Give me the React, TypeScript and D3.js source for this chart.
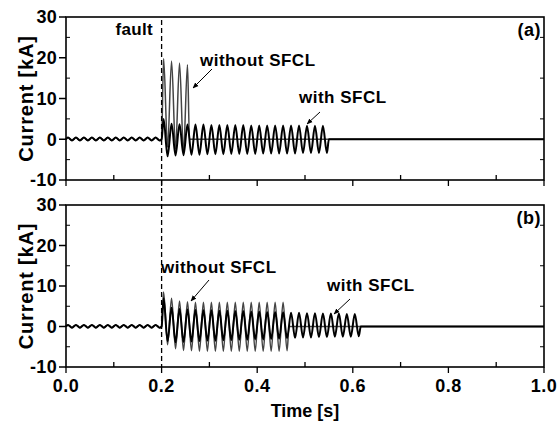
import React from "react";
import * as d3 from "d3";

// ---- data ----
const FREQ = 60; // Hz, grid frequency
const FAULT_T = 0.2; // s
const xTicks = [0.0, 0.2, 0.4, 0.6, 0.8, 1.0];
const yTicks = [-10, 0, 10, 20, 30];

// pre-fault ripple (half-cycle extrema, kA), shared by both curves
const preFault = [0.4, -0.3, 0.4, -0.3, 0.4, -0.3, 0.4, -0.3, 0.4, -0.3, 0.4, -0.3,
  0.4, -0.3, 0.4, -0.3, 0.4, -0.3, 0.4, -0.3, 0.4, -0.3, 0.4, -0.3];

// panel (a): post-fault half-cycle extrema
const withoutA = [19.8, -2.0, 19.2, -2.5, 18.7, -3.0, 18.3];
const withA = [5.0, -4.2, 3.8, -4.0, 3.7, -3.9, 3.6, -3.8, 3.6, -3.8, 3.6, -3.7,
  3.5, -3.7, 3.5, -3.7, 3.5, -3.6, 3.5, -3.6, 3.5, -3.6, 3.4, -3.6, 3.4, -3.5,
  3.4, -3.5, 3.4, -3.5, 3.4, -3.5, 3.4, -3.5, 3.4, -3.4, 3.3, -3.4, 3.3, -3.4,
  3.3, -3.4];

// panel (b): post-fault half-cycle extrema
const withoutB = [8.5, -4.5, 7.0, -5.5, 6.3, -5.9, 6.1, -6.0, 6.0, -6.1, 6.0, -6.1,
  6.0, -6.1, 6.0, -6.1, 6.0, -6.1, 6.0, -6.1, 6.0, -6.1, 6.0, -6.1, 6.0, -6.1,
  6.0, -6.1, 6.0, -6.1, 6.0, -6.0];
const withB = [7.0, -3.6, 4.6, -3.9, 4.3, -3.8, 4.2, -3.7, 4.1, -3.6, 4.0, -3.5,
  4.0, -3.5, 3.9, -3.4, 3.9, -3.4, 3.8, -3.3, 3.8, -3.3, 3.7, -3.2, 3.7, -3.2,
  3.6, -3.1, 3.6, -3.0, 3.5, -2.9, 3.4, -2.8, 3.4, -2.7, 3.3, -2.7, 3.3, -2.6,
  3.2, -2.6, 3.2, -2.5, 3.2, -2.5, 3.1, -2.5, 3.1, -2.4];

// ---- layout ----
const W = 558, H = 426;
const X0 = 66, X1 = 544;
const panels = [
  { top: 17, bottom: 180, label: "(a)", without: withoutA, with: withA },
  { top: 205, bottom: 367, label: "(b)", without: withoutB, with: withB },
];
const FONT = "'Liberation Sans', Arial, Helvetica, sans-serif";

function buildSeries(post: number[]): [number, number][] {
  const half = 1 / (2 * FREQ);
  const pts: [number, number][] = [[0, 0]];
  preFault.forEach((v, i) => pts.push([(i + 0.5) * half, v]));
  pts.push([FAULT_T, 0]);
  post.forEach((v, i) => pts.push([FAULT_T + (i + 0.5) * half, v]));
  pts.push([FAULT_T + post.length * half, 0]);
  pts.push([1.0, 0]);
  return pts;
}

export default function App() {
  const x = d3.scaleLinear().domain([0, 1]).range([X0, X1]);
  const minorX = d3.range(0, 1.0001, 0.1);

  return (
    <svg width={W} height={H} style={{ position: "absolute", left: 0, top: 0, background: "#fff" }}
      fontFamily={FONT} fontWeight="bold">
      <defs>
        <marker id="arr" viewBox="0 0 10 10" refX="9" refY="5" markerWidth="6" markerHeight="6" orient="auto">
          <path d="M0,1 L10,5 L0,9 z" fill="#000" />
        </marker>
      </defs>
      {panels.map((p, pi) => {
        const y = d3.scaleLinear().domain([-10, 30]).range([p.bottom, p.top]);
        const line = d3.line<[number, number]>().x((d) => x(d[0])).y((d) => y(d[1])).curve(d3.curveMonotoneX);
        const minorY = d3.range(-5, 30, 10);
        return (
          <g key={pi}>
            <path d={line(buildSeries(p.without)) || ""} fill="none" stroke="#444" strokeWidth={1.5} />
            <path d={line(buildSeries(p.with)) || ""} fill="none" stroke="#000" strokeWidth={2} />
            <rect x={X0} y={p.top} width={X1 - X0} height={p.bottom - p.top} fill="none" stroke="#000" strokeWidth={1.6} />
            {yTicks.map((t) => (
              <g key={t}>
                <line x1={X0 - 7} x2={X0} y1={y(t)} y2={y(t)} stroke="#000" strokeWidth={1.5} />
                <text x={X0 - 9} y={y(t)} dy="0.36em" textAnchor="end" fontSize={18} letterSpacing={0.3}>{t}</text>
              </g>
            ))}
            {minorY.map((t) => (
              <g key={"m" + t}>
                <line x1={X0} x2={X0 + 4} y1={y(t)} y2={y(t)} stroke="#000" strokeWidth={1} />
                <line x1={X1} x2={X1 - 4} y1={y(t)} y2={y(t)} stroke="#000" strokeWidth={1} />
              </g>
            ))}
            {minorX.map((t, i) => (
              <line key={"x" + i} x1={x(t)} x2={x(t)} y1={p.bottom}
                y2={i % 2 === 0 ? p.bottom + 6 : p.bottom - 5} stroke="#000" strokeWidth={1.3} />
            ))}
            <text x={26} y={(p.top + p.bottom) / 2} transform={`rotate(-90, 26, ${(p.top + p.bottom) / 2})`}
              dy="0.36em" textAnchor="middle" fontSize={20} letterSpacing={0.8}>Current [kA]</text>
            <text x={541} y={p.top + 19} textAnchor="end" fontSize={18} letterSpacing={0.5}>{p.label}</text>
          </g>
        );
      })}
      {/* fault line */}
      <line x1={x(FAULT_T)} x2={x(FAULT_T)} y1={20} y2={367} stroke="#000" strokeWidth={1.3} strokeDasharray="5,3" />
      <text x={153} y={35} textAnchor="end" fontSize={17} letterSpacing={0.3}>fault</text>
      {/* annotations panel a */}
      <text x={200} y={66} fontSize={17} letterSpacing={0.5}>without SFCL</text>
      <line x1={212} y1={69} x2={193} y2={88} stroke="#000" strokeWidth={1} markerEnd="url(#arr)" />
      <text x={299} y={103} fontSize={17} letterSpacing={0.5}>with SFCL</text>
      <line x1={320} y1={112} x2={307} y2={124} stroke="#000" strokeWidth={1} markerEnd="url(#arr)" />
      {/* annotations panel b */}
      <text x={161} y={273} fontSize={17} letterSpacing={0.5}>without SFCL</text>
      <line x1={209} y1={280} x2={191} y2={301} stroke="#000" strokeWidth={1} markerEnd="url(#arr)" />
      <text x={327} y={291} fontSize={17} letterSpacing={0.5}>with SFCL</text>
      <line x1={350} y1={299} x2={334} y2={314} stroke="#000" strokeWidth={1} markerEnd="url(#arr)" />
      {/* x tick labels */}
      {xTicks.map((t) => (
        <text key={t} x={x(t)} y={392} textAnchor="middle" fontSize={18} letterSpacing={0.5}>{t.toFixed(1)}</text>
      ))}
      <text x={305} y={417} textAnchor="middle" fontSize={18}>Time [s]</text>
    </svg>
  );
}
